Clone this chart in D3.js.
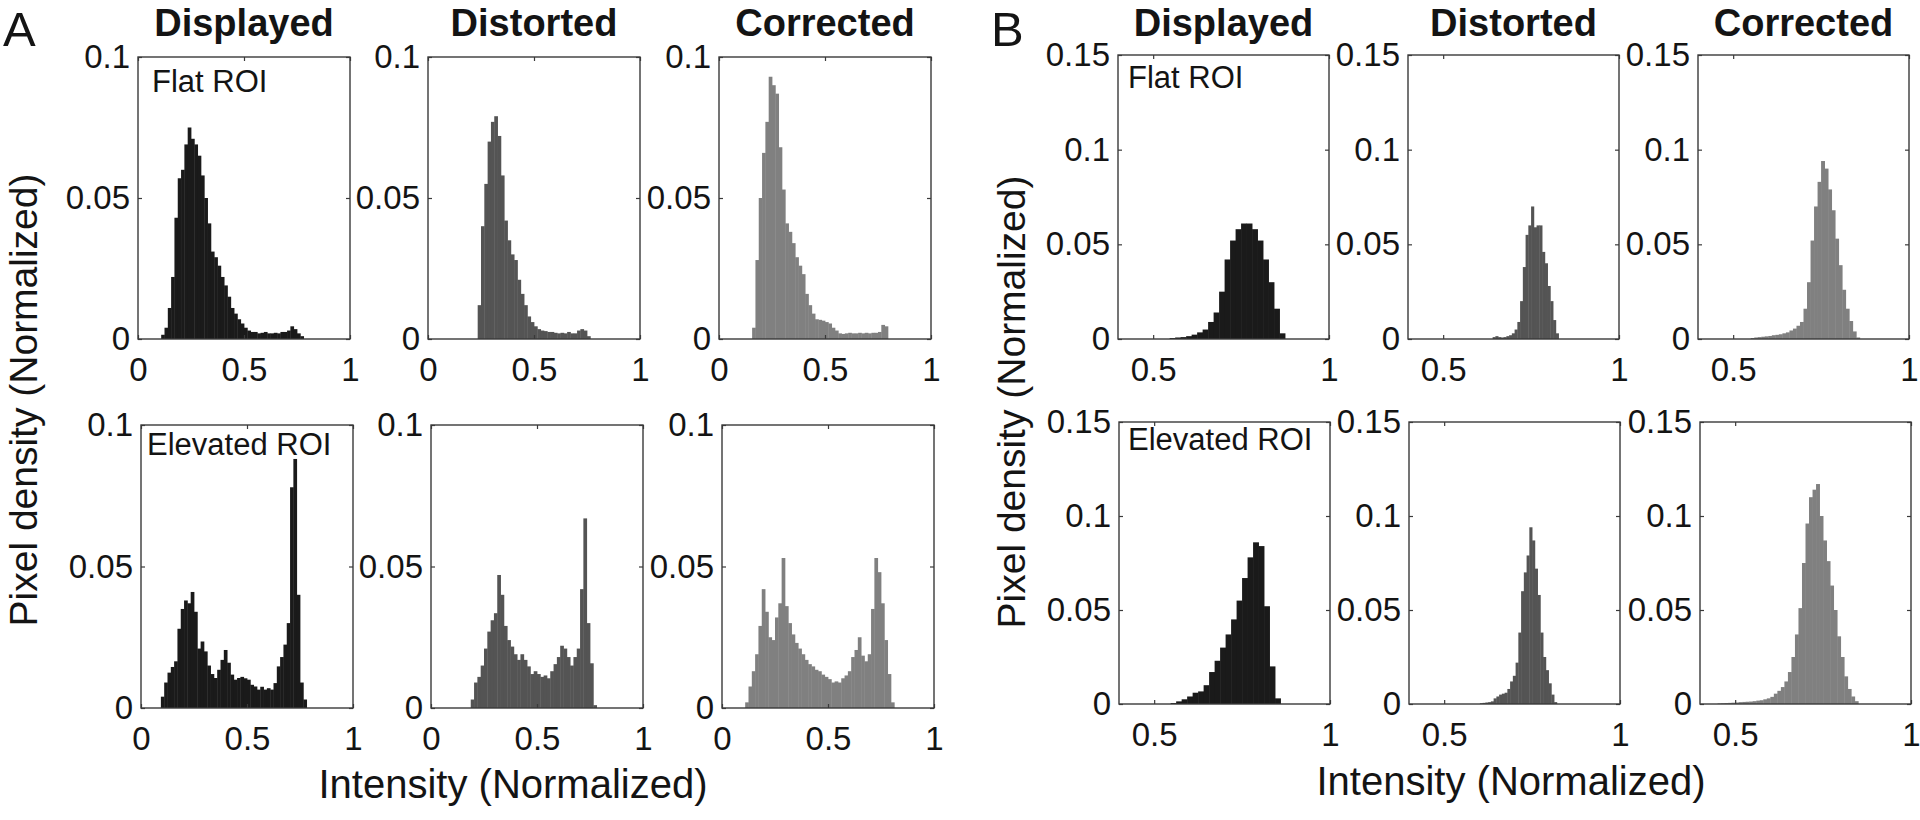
<!DOCTYPE html>
<html><head><meta charset="utf-8">
<script src="https://cdn.jsdelivr.net/npm/d3@7"></script>
<style>
body{margin:0;background:#fff}
svg{display:block}
text{font-family:"Liberation Sans", Arial, Helvetica, sans-serif;fill:#141414}
</style>
</head><body>
<svg id="chart" width="1920" height="820"></svg>
<script>
// ---------------- DATA ----------------
const columnTitles = ["Displayed", "Distorted", "Corrected"];
const roiLabels = ["Flat ROI", "Elevated ROI"];
const panelLetters = ["A", "B"];
const yAxisTitle = "Pixel density (Normalized)";
const xAxisTitle = "Intensity (Normalized)";

const aXDomain = [0, 1];
const aYDomain = [0, 0.1];
const aXTicks = [0, 0.5, 1];
const aYTicks = [0, 0.05, 0.1];
const bXDomain = [0.4, 1];
const bYDomain = [0, 0.15];
const bXTicks = [0.5, 1];
const bYTicks = [0, 0.05, 0.1, 0.15];

// histogram bins: first bin left edge, bin width, densities
const aFlatDisplayedStart = 7 / 64, aFlatDisplayedBin = 1 / 64;
const aFlatDisplayed = [0.0015,0.004,0.011,0.022,0.043,0.057,0.060,0.069,0.075,0.071,0.069,0.065,0.058,0.050,0.041,0.031,0.029,0.026,0.022,0.019,0.015,0.011,0.009,0.007,0.0055,0.004,0.003,0.0025,0.0025,0.002,0.0022,0.0025,0.002,0.002,0.0022,0.002,0.0025,0.0025,0.003,0.0045,0.0035,0.002,0.001];

const aFlatDistortedStart = 15 / 64, aFlatDistortedBin = 1 / 64;
const aFlatDistorted = [0.012,0.040,0.055,0.070,0.077,0.079,0.072,0.058,0.042,0.035,0.030,0.028,0.021,0.016,0.012,0.008,0.006,0.0045,0.0035,0.003,0.0028,0.0025,0.0025,0.0022,0.002,0.0022,0.002,0.0025,0.002,0.002,0.003,0.0035,0.003,0.001];

const aFlatCorrectedStart = 10 / 64, aFlatCorrectedBin = 1 / 64;
const aFlatCorrected = [0.004,0.028,0.050,0.066,0.077,0.093,0.090,0.087,0.068,0.053,0.041,0.038,0.034,0.029,0.026,0.023,0.016,0.012,0.009,0.007,0.0068,0.0065,0.006,0.0055,0.004,0.003,0.002,0.0018,0.002,0.0022,0.002,0.002,0.0022,0.002,0.0022,0.002,0.0022,0.0022,0.0025,0.005,0.0045];

const aElevDisplayedStart = 6 / 64, aElevDisplayedBin = 1 / 64;
const aElevDisplayed = [0.004,0.009,0.0125,0.0145,0.0165,0.028,0.035,0.038,0.037,0.041,0.034,0.021,0.0235,0.020,0.015,0.012,0.0106,0.0135,0.017,0.0205,0.016,0.0118,0.010,0.0106,0.011,0.0105,0.010,0.0082,0.0076,0.0065,0.0075,0.0065,0.007,0.0065,0.0088,0.0147,0.018,0.0224,0.030,0.078,0.088,0.040,0.009,0.003];

const aElevDistortedStart = 12 / 64, aElevDistortedBin = 1 / 64;
const aElevDistorted = [0.003,0.009,0.011,0.015,0.021,0.027,0.031,0.0335,0.047,0.040,0.029,0.024,0.0217,0.019,0.017,0.019,0.017,0.0147,0.012,0.013,0.012,0.011,0.0115,0.0105,0.013,0.0155,0.018,0.022,0.021,0.018,0.015,0.018,0.021,0.042,0.067,0.030,0.0158,0.001];

const aElevCorrectedStart = 7 / 64, aElevCorrectedBin = 1 / 64;
const aElevCorrected = [0.002,0.0076,0.013,0.019,0.029,0.042,0.034,0.025,0.024,0.032,0.037,0.053,0.036,0.030,0.026,0.023,0.021,0.019,0.017,0.0155,0.0147,0.0135,0.013,0.0118,0.011,0.0102,0.009,0.0094,0.009,0.0105,0.0115,0.013,0.018,0.0205,0.025,0.0185,0.0165,0.019,0.035,0.053,0.048,0.037,0.024,0.012,0.002];

const bFlatDisplayedStart = 35 / 64, bFlatDisplayedBin = 1 / 64;
const bFlatDisplayed = [0.0005,0.0008,0.001,0.0015,0.0023,0.0035,0.005,0.009,0.014,0.025,0.042,0.052,0.058,0.061,0.061,0.058,0.052,0.042,0.030,0.016,0.003];

const bFlatDistortedStart = 82 / 128, bFlatDistortedBin = 1 / 128;
const bFlatDistorted = [0.001,0.0015,0.001,0.0008,0.001,0.0015,0.002,0.003,0.005,0.009,0.020,0.038,0.055,0.060,0.070,0.059,0.060,0.060,0.046,0.040,0.028,0.020,0.010,0.003];

const bFlatCorrectedStart = 0.55, bFlatCorrectedBin = 0.01;
const bFlatCorrected = [0.0005,0.0008,0.001,0.0012,0.0014,0.0016,0.002,0.0022,0.0025,0.003,0.0035,0.0045,0.0055,0.007,0.009,0.016,0.030,0.052,0.070,0.083,0.094,0.090,0.079,0.068,0.053,0.039,0.026,0.016,0.0095,0.004,0.0008];

const bElevDisplayedStart = 35 / 64, bElevDisplayedBin = 1 / 64;
const bElevDisplayed = [0.0005,0.0014,0.0025,0.004,0.006,0.0067,0.010,0.017,0.023,0.030,0.037,0.045,0.055,0.067,0.078,0.086,0.084,0.052,0.020,0.003];

const bElevDistortedStart = 77 / 128, bElevDistortedBin = 1 / 128;
const bElevDistorted = [0.0004,0.0006,0.0008,0.001,0.0014,0.003,0.004,0.005,0.0055,0.006,0.008,0.012,0.015,0.022,0.038,0.060,0.070,0.079,0.094,0.087,0.072,0.058,0.038,0.025,0.018,0.011,0.005,0.001];

const bElevCorrectedStart = 0.45, bElevCorrectedBin = 0.01;
const bElevCorrected = [0.0003,0.0004,0.0005,0.0006,0.0007,0.0008,0.001,0.0011,0.0012,0.0013,0.0015,0.0018,0.002,0.0025,0.003,0.0038,0.0055,0.007,0.009,0.012,0.017,0.025,0.037,0.051,0.075,0.096,0.110,0.114,0.117,0.100,0.087,0.076,0.063,0.050,0.036,0.025,0.0147,0.008,0.004,0.0015];

// ---------------- LAYOUT / STYLE ----------------
const barColors = ["#1a1a1a", "#545454", "#808080"];
const frameColor = "#3a3a3a";
const layout = {
  A: { width: 212, rows: [ {top: 57, bottom: 339, lefts: [138, 428, 719]},
                           {top: 425, bottom: 708, lefts: [141, 431, 722]} ] },
  B: { width: 211, rows: [ {top: 55, bottom: 339, lefts: [1118, 1408, 1698]},
                           {top: 422, bottom: 704, lefts: [1119, 1409, 1700]} ] }
};

const histA = [
  [ {v: aFlatDisplayed, s: aFlatDisplayedStart, w: aFlatDisplayedBin},
    {v: aFlatDistorted, s: aFlatDistortedStart, w: aFlatDistortedBin},
    {v: aFlatCorrected, s: aFlatCorrectedStart, w: aFlatCorrectedBin} ],
  [ {v: aElevDisplayed, s: aElevDisplayedStart, w: aElevDisplayedBin},
    {v: aElevDistorted, s: aElevDistortedStart, w: aElevDistortedBin},
    {v: aElevCorrected, s: aElevCorrectedStart, w: aElevCorrectedBin} ]
];
const histB = [
  [ {v: bFlatDisplayed, s: bFlatDisplayedStart, w: bFlatDisplayedBin},
    {v: bFlatDistorted, s: bFlatDistortedStart, w: bFlatDistortedBin},
    {v: bFlatCorrected, s: bFlatCorrectedStart, w: bFlatCorrectedBin} ],
  [ {v: bElevDisplayed, s: bElevDisplayedStart, w: bElevDisplayedBin},
    {v: bElevDistorted, s: bElevDistortedStart, w: bElevDistortedBin},
    {v: bElevCorrected, s: bElevCorrectedStart, w: bElevCorrectedBin} ]
];

const svg = d3.select("#chart");
const fmt = d => String(d);

function styleAxis(g, size) {
  g.select(".domain").remove();
  g.selectAll("line").attr("stroke", frameColor).attr("stroke-width", 1.2);
  g.selectAll("text").attr("font-size", size)
    .attr("font-family", '"Liberation Sans", Arial, sans-serif').attr("fill", "#141414");
  g.attr("font-family", null).attr("font-size", null);
}

function drawPanel(geo, width, r, c, hist, xDom, yDom, xTicks, yTicks, roiLabel, roiDx, roiDy) {
  const left = geo.lefts[c];
  const x = d3.scaleLinear().domain(xDom).range([left, left + width]);
  const y = d3.scaleLinear().domain(yDom).range([geo.bottom, geo.top]);
  const g = svg.append("g");
  const bins = hist.v.map((val, i) => ({x0: hist.s + i * hist.w, x1: hist.s + (i + 1) * hist.w, val}));
  g.append("g").selectAll("rect").data(bins).join("rect")
    .attr("x", d => x(d.x0))
    .attr("width", d => x(d.x1) - x(d.x0) + 0.4)
    .attr("y", d => y(d.val))
    .attr("height", d => y(0) - y(d.val))
    .attr("fill", barColors[c]);

  // axes with inward ticks
  const gb = g.append("g").attr("transform", `translate(0,${geo.bottom})`)
    .call(d3.axisBottom(x).tickValues(xTicks).tickSize(-4).tickPadding(19).tickFormat(fmt));
  styleAxis(gb, 33);
  const gt = g.append("g").attr("transform", `translate(0,${geo.top})`)
    .call(d3.axisTop(x).tickValues(xTicks).tickSize(-4).tickFormat(""));
  styleAxis(gt, 33);
  const gl = g.append("g").attr("transform", `translate(${left},0)`)
    .call(d3.axisLeft(y).tickValues(yTicks).tickSize(-4).tickPadding(8).tickFormat(fmt));
  styleAxis(gl, 33);
  const gr = g.append("g").attr("transform", `translate(${left + width},0)`)
    .call(d3.axisRight(y).tickValues(yTicks).tickSize(-4).tickFormat(""));
  styleAxis(gr, 33);

  g.append("rect").attr("x", left).attr("y", geo.top)
    .attr("width", width).attr("height", geo.bottom - geo.top)
    .attr("fill", "none").attr("stroke", frameColor).attr("stroke-width", 1.4);

  if (roiLabel) {
    g.append("text").attr("x", left + roiDx).attr("y", geo.top + roiDy)
      .attr("font-size", 31).text(roiLabel);
  }
}

// Panel A
[0, 1].forEach(r => [0, 1, 2].forEach(c => {
  const lab = c === 0 ? roiLabels[r] : null;
  drawPanel(layout.A.rows[r], layout.A.width, r, c, histA[r][c], aXDomain, aYDomain, aXTicks, aYTicks,
    lab, r === 0 ? 14 : 6, r === 0 ? 35 : 30);
}));
// Panel B
[0, 1].forEach(r => [0, 1, 2].forEach(c => {
  const lab = c === 0 ? roiLabels[r] : null;
  drawPanel(layout.B.rows[r], layout.B.width, r, c, histB[r][c], bXDomain, bYDomain, bXTicks, bYTicks,
    lab, r === 0 ? 10 : 9, r === 0 ? 33 : 28);
}));

// column titles
["A", "B"].forEach(k => {
  const L = layout[k];
  columnTitles.forEach((t, c) => {
    svg.append("text").attr("x", L.rows[0].lefts[c] + L.width / 2).attr("y", 36)
      .attr("text-anchor", "middle").attr("font-size", 38).attr("font-weight", "bold").text(t);
  });
});

// panel letters
svg.append("text").attr("x", 3).attr("y", 46).attr("font-size", 49).text(panelLetters[0]);
svg.append("text").attr("x", 991).attr("y", 46).attr("font-size", 49).text(panelLetters[1]);

// axis titles
svg.append("text").attr("transform", "translate(37,400) rotate(-90)")
  .attr("text-anchor", "middle").attr("font-size", 39).text(yAxisTitle);
svg.append("text").attr("transform", "translate(1025,402) rotate(-90)")
  .attr("text-anchor", "middle").attr("font-size", 39).text(yAxisTitle);
svg.append("text").attr("x", 513).attr("y", 798)
  .attr("text-anchor", "middle").attr("font-size", 40).text(xAxisTitle);
svg.append("text").attr("x", 1511).attr("y", 795)
  .attr("text-anchor", "middle").attr("font-size", 40).text(xAxisTitle);
</script>
</body></html>
